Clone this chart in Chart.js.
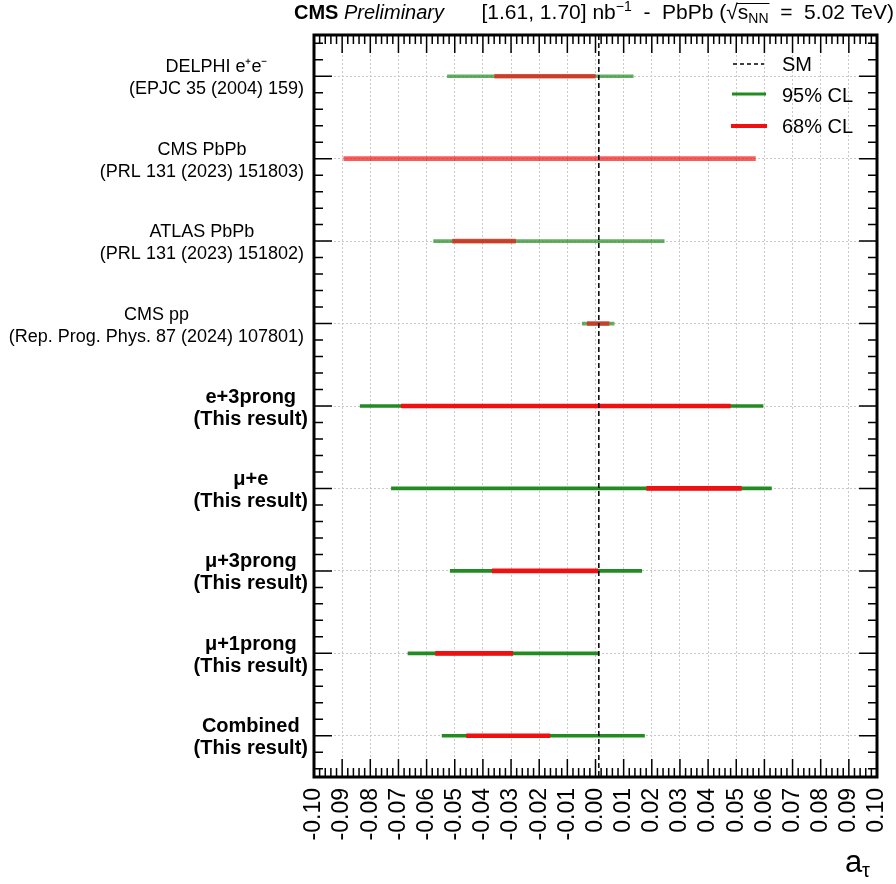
<!DOCTYPE html>
<html>
<head>
<meta charset="utf-8">
<script src="https://cdn.jsdelivr.net/npm/chart.js@4.4.0/dist/chart.umd.min.js"></script>
<style>
html, body { margin: 0; padding: 0; background: #ffffff; }
#caja { width: 896px; height: 884px; position: relative; }
</style>
</head>
<body>
<div id="caja"><canvas id="grafico"></canvas></div>
<script>
// DATOS

// filas, de arriba a abajo (cada etiqueta en dos lineas)
var categorias = [
    ["DELPHI e\u207Ae\u207B", "(EPJC 35 (2004) 159)"],
    ["CMS PbPb", "(PRL 131 (2023) 151803)"],
    ["ATLAS PbPb", "(PRL 131 (2023) 151802)"],
    ["CMS pp", "(Rep. Prog. Phys. 87 (2024) 107801)"],
    ["e+3prong", "(This result)"],
    ["\u03BC+e", "(This result)"],
    ["\u03BC+3prong", "(This result)"],
    ["\u03BC+1prong", "(This result)"],
    ["Combined", "(This result)"],
];
// intervalo 95% CL
var bajo95 = [-0.0526, null, -0.0575, -0.0047, -0.0836, -0.0725, -0.0516, -0.0666, -0.0545];
var alto95 = [0.0134, null, 0.0244, 0.0066, 0.0595, 0.0625, 0.0164, 0.0012, 0.0174];
// intervalo 68% CL
var bajo68 = [-0.0358, -0.0894, -0.0508, -0.0029, -0.0690, 0.0182, -0.0367, -0.0568, -0.0458];
var alto68 = [-0.0001, 0.0568, -0.0284, 0.0048, 0.0479, 0.0518, 0.0008, -0.0294, -0.0162];
// prediccion del modelo estandar
var valorSM = 0.00118;
// etiquetas del eje x
var etiquetasX = ["-0.10", "-0.09", "-0.08", "-0.07", "-0.06", "-0.05", "-0.04", "-0.03", "-0.02", "-0.01",
    "0.00", "0.01", "0.02", "0.03", "0.04", "0.05", "0.06", "0.07", "0.08", "0.09", "0.10"];

var fuente = "'Liberation Sans', Arial, Helvetica, sans-serif";
var verde = "#228b22";
var rojo = "#f01010";

/**
 * Colores por fila: las medidas anteriores van algo transparentes
 */
function coloresFila(color, transparente) {
    return categorias.map(function (c, i) {
        return i < 4 ? transparente : color;
    });
}

/**
 * Textos, marco, marcas del marco y leyenda
 */
var extras = {
    id: "extras",
    afterDatasetsDraw: function (chart) {
        var ctx = chart.ctx;
        var area = chart.chartArea;
        var ex = chart.scales.x;
        var ey = chart.scales.y;
        ctx.save();

        // linea SM
        var xs = ex.getPixelForValue(valorSM);
        ctx.strokeStyle = "#000";
        ctx.lineWidth = 1.5;
        ctx.setLineDash([5, 3]);
        ctx.beginPath();
        ctx.moveTo(xs, area.top);
        ctx.lineTo(xs, area.bottom);
        ctx.stroke();
        ctx.setLineDash([]);

        // marcas en x (arriba y abajo)
        ctx.lineWidth = 1.5;
        for (var i = 1; i < 100; i++) {
            var px = ex.getPixelForValue(-0.1 + i * 0.002);
            var largo = i % 5 === 0 ? 18 : 9;
            ctx.beginPath();
            ctx.moveTo(px, area.bottom);
            ctx.lineTo(px, area.bottom - largo);
            ctx.moveTo(px, area.top);
            ctx.lineTo(px, area.top + largo);
            ctx.stroke();
        }

        // marcas en y (izquierda y derecha)
        var y0 = ey.getPixelForValue(0);
        var paso = (ey.getPixelForValue(1) - y0) / 5;
        for (var k = -5; k <= (categorias.length - 1) * 5 + 5; k++) {
            var py = y0 + k * paso;
            if (py <= area.top + 2 || py >= area.bottom - 2) continue;
            var lg = ((k % 5) + 5) % 5 === 0 ? 18 : 9;
            ctx.beginPath();
            ctx.moveTo(area.left, py);
            ctx.lineTo(area.left + lg, py);
            ctx.moveTo(area.right, py);
            ctx.lineTo(area.right - lg, py);
            ctx.stroke();
        }

        // marco
        ctx.lineWidth = 3;
        ctx.strokeRect(area.left, area.top, area.right - area.left, area.bottom - area.top);

        // leyenda
        ctx.lineWidth = 1.5;
        ctx.setLineDash([4, 3]);
        ctx.beginPath();
        ctx.moveTo(733, 64);
        ctx.lineTo(764, 64);
        ctx.stroke();
        ctx.setLineDash([]);
        ctx.lineWidth = 3;
        ctx.strokeStyle = verde;
        ctx.beginPath();
        ctx.moveTo(732, 94);
        ctx.lineTo(766, 94);
        ctx.stroke();
        ctx.lineWidth = 4;
        ctx.strokeStyle = rojo;
        ctx.beginPath();
        ctx.moveTo(731, 126);
        ctx.lineTo(767, 126);
        ctx.stroke();
        ctx.fillStyle = "#000";
        ctx.font = "20px " + fuente;
        ctx.textAlign = "left";
        ctx.textBaseline = "middle";
        ctx.fillText("SM", 782, 65);
        ctx.fillText("95% CL", 782, 96);
        ctx.fillText("68% CL", 782, 127);

        // etiquetas de las filas
        ctx.textAlign = "center";
        var etq = ey.getLabels();
        for (var f = 0; f < etq.length; f++) {
            var negrita = f >= 4;
            ctx.font = (negrita ? "bold 20px " : "18px ") + fuente;
            var ancho = Math.max(ctx.measureText(etq[f][0]).width, ctx.measureText(etq[f][1]).width);
            var cx = (negrita ? 308 : 304) - ancho / 2;
            var cy = ey.getPixelForValue(f);
            ctx.fillText(etq[f][0], cx, cy - 9);
            ctx.fillText(etq[f][1], cx, cy + 13);
        }

        // titulo del eje x
        ctx.textAlign = "left";
        ctx.textBaseline = "alphabetic";
        ctx.font = "31px " + fuente;
        ctx.fillText("a", 845, 872);
        ctx.font = "20px " + fuente;
        ctx.fillText("\u03C4", 862, 877);

        // cabecera
        ctx.font = "bold 20px " + fuente;
        ctx.fillText("CMS", 294, 19);
        var wCms = ctx.measureText("CMS ").width;
        ctx.font = "italic 20px " + fuente;
        ctx.fillText("Preliminary", 294 + wCms, 19);

        var trozos = [
            { t: "[1.61, 1.70] nb", f: "21px", dy: 0 },
            { t: "\u22121", f: "14px", dy: -8 },
            { t: "  -  PbPb (", f: "21px", dy: 0 },
            { t: "\u221A", f: "21px", dy: 0 },
            { t: "s", f: "21px", dy: 0 },
            { t: "NN", f: "14px", dy: 4 },
            { t: "  =  5.02 TeV)", f: "21px", dy: 0 },
        ];
        var total = 0;
        trozos.forEach(function (p) {
            ctx.font = p.f + " " + fuente;
            p.w = ctx.measureText(p.t).width;
            total += p.w;
        });
        var xx = 894 - total;
        trozos.forEach(function (p) {
            ctx.font = p.f + " " + fuente;
            ctx.fillText(p.t, xx, 19 + p.dy);
            p.x = xx;
            xx += p.w;
        });
        ctx.strokeStyle = "#000";
        ctx.lineWidth = 1;
        ctx.beginPath();
        ctx.moveTo(trozos[3].x + trozos[3].w - 1, 3.5);
        ctx.lineTo(trozos[5].x + trozos[5].w + 1, 3.5);
        ctx.stroke();

        ctx.restore();
    },
};

function cargaGrafico() {
    var datos = {
        labels: categorias,
        datasets: [
            {
                label: "68% CL",
                data: bajo68.map(function (v, i) { return [v, alto68[i]]; }),
                backgroundColor: coloresFila(rojo, "rgba(240, 16, 16, 0.68)"),
                barThickness: 4,
                grouped: false,
                order: 0,
            },
            {
                label: "95% CL",
                data: bajo95.map(function (v, i) { return v === null ? null : [v, alto95[i]]; }),
                backgroundColor: coloresFila(verde, "rgba(34, 139, 34, 0.7)"),
                barThickness: 3,
                grouped: false,
                order: 1,
            },
        ],
    };
    new Chart(document.getElementById("grafico"), {
        type: "bar",
        data: datos,
        plugins: [extras],
        options: {
            indexAxis: "y",
            responsive: true,
            maintainAspectRatio: false,
            animation: false,
            layout: { padding: { top: 35, right: 19, left: 0, bottom: 0 } },
            plugins: {
                legend: { display: false },
                tooltip: { enabled: false },
            },
            scales: {
                x: {
                    type: "linear",
                    min: -0.1,
                    max: 0.1,
                    grid: { color: "#c8c8c8", lineWidth: 1, drawTicks: false },
                    border: { display: false, dash: [2, 2] },
                    ticks: {
                        stepSize: 0.01,
                        autoSkip: false,
                        minRotation: 90,
                        maxRotation: 90,
                        padding: 11,
                        color: "#000",
                        font: { family: fuente, size: 23 },
                        callback: function (v, i) {
                            return etiquetasX[i];
                        },
                    },
                    afterFit: function (s) {
                        s.height = 107;
                        s.paddingLeft = 0;
                        s.paddingRight = 0;
                    },
                },
                y: {
                    type: "category",
                    offset: true,
                    grid: { color: "#c8c8c8", lineWidth: 1, drawTicks: false, offset: false },
                    border: { display: false, dash: [2, 2] },
                    ticks: { display: false },
                    afterFit: function (s) {
                        s.width = 314;
                        s.paddingTop = 0;
                        s.paddingBottom = 0;
                    },
                },
            },
        },
    });
}

cargaGrafico();
</script>
</body>
</html>
